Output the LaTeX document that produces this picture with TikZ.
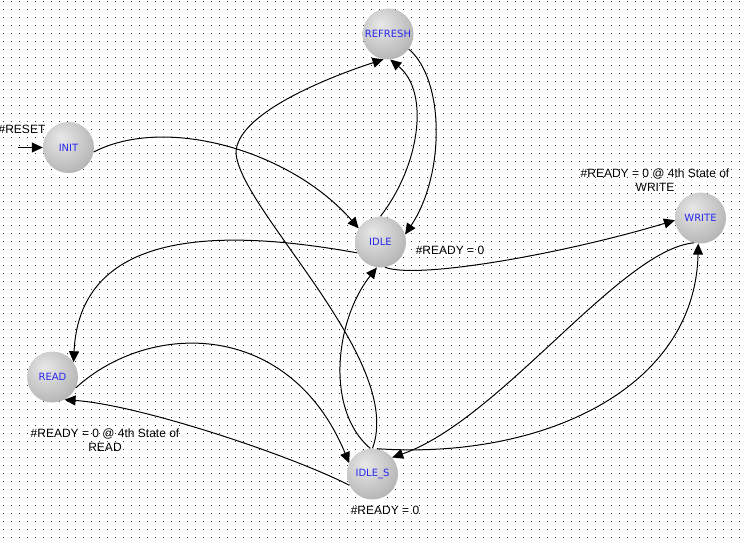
\documentclass[tikz,border=0pt]{standalone}
\usepackage{fontspec}
\setmainfont{Liberation Sans}
\newfontfamily\statefont{DejaVu Sans}
\usetikzlibrary{arrows.meta}
\definecolor{statetext}{RGB}{40,40,240}
\pgfdeclareradialshading{stateball}{\pgfpoint{-8bp}{10bp}}{color(0bp)=(black!9); color(18bp)=(black!20); color(40bp)=(black!34); color(60bp)=(black!47); color(80bp)=(black!50)}
\tikzset{
  state/.style={circle, minimum size=51pt, inner sep=0pt, shading=stateball, text=statetext, font=\statefont\fontsize{10}{12}\selectfont},
  conn/.style={line width=1pt, -{Triangle[length=11pt,width=10pt]}},
  lbl/.style={font=\fontsize{12}{14.5}\selectfont, align=center, inner sep=0pt},
  gridline/.style={line width=1pt, black!85, dash pattern=on 1pt off 7pt},
}
\begin{document}
\begin{tikzpicture}[x=1pt,y=-1pt]
\useasboundingbox (0,0) rectangle (743,544);
\fill[white] (0,0) rectangle (743,544);
\foreach \y in {1.5,9.5,...,543.5} \draw[gridline] (3,\y) -- (743,\y);

\node[state] (init) at (68.5,147.5) {INIT};
\node[state] (refresh) at (388,34) {REFRESH};
\node[state] (idle) at (380.5,242) {IDLE};
\node[state] (write) at (700.5,218) {WRITE};
\node[state] (read) at (52.5,377) {READ};
\node[state] (idles) at (372.5,474) {IDLE\_S};

\node[lbl] (lreset) at (22,129) {\#RESET};
\node[lbl] (lidle) at (450,250) {\#READY = 0};
\node[lbl] (lwrite) at (655,180) {\#READY = 0 @ 4th State of\\WRITE};
\node[lbl] (lread) at (105,440) {\#READY = 0 @ 4th State of\\READ};
\node[lbl] (lidles) at (385,510) {\#READY = 0};

\coordinate (rs) at (18,147.5);
\draw[conn] (rs) -- (init.west);
\draw[conn] (init.-10) .. controls (165,115) and (290,150) .. (idle.148);
\draw[conn] (idle.90) .. controls (420,165) and (430,92) .. (refresh.-85);
\draw[conn] (refresh.-36) .. controls (445,80) and (445,175) .. (idle.17);
\draw[conn] (idles.90) .. controls (405,360) and (240,210) .. (236,153) .. controls (236,115) and (323,79) .. (refresh.-100);
\draw[conn] (idle.205) .. controls (230,230) and (80,225) .. (read.35);
\draw[conn] (idle.-80) .. controls (420,280) and (570,252) .. (write.185);
\draw[conn] (read.-25) .. controls (150,320) and (290,320) .. (idles.155);
\draw[conn] (idles.206) .. controls (290,455) and (140,405) .. (read.-62);
\draw[conn] (idles.80) .. controls (540,460) and (695,390) .. (write.-95);
\draw[conn] (write.-105) .. controls (620,250) and (500,420) .. (idles.40);
\draw[conn] (idles.95) .. controls (325,410) and (335,320) .. (idle.-98);
\end{tikzpicture}
\end{document}
